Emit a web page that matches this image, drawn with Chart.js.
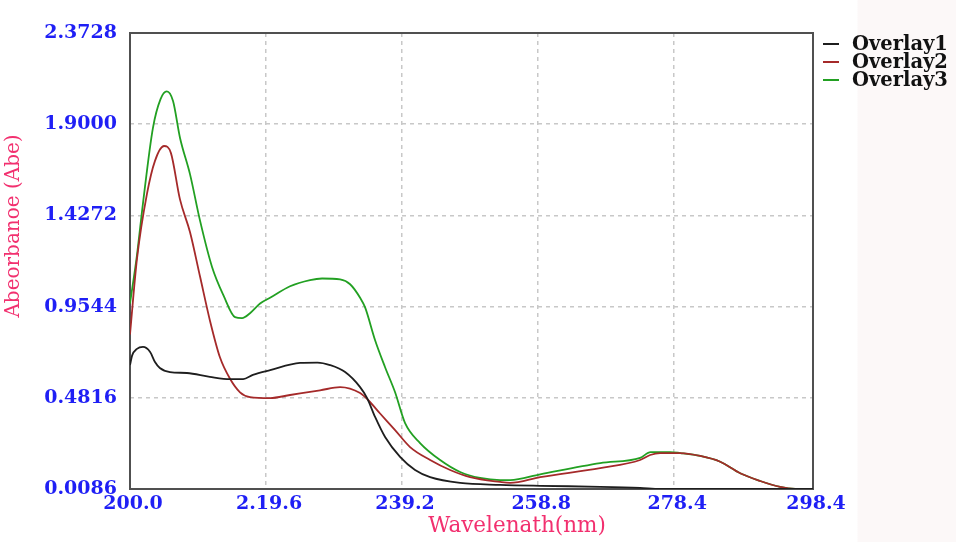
<!DOCTYPE html>
<html>
<head>
<meta charset="utf-8">
<script src="https://cdn.jsdelivr.net/npm/chart.js@4/dist/chart.umd.min.js"></script>
<style>
  html, body { margin: 0; padding: 0; }
  body { width: 956px; height: 542px; background: linear-gradient(to right, #ffffff 0px, #ffffff 857px, #fcf8f8 858px); overflow: hidden; }
  #wrap { position: relative; width: 956px; height: 542px; }
</style>
</head>
<body>
<div id="wrap"><canvas id="c" width="956" height="542"></canvas></div>
<script>
// ---- Data ----
const seriesNames = ["Overlay1", "Overlay2", "Overlay3"];
const xTickValues = [200.0, 219.6, 239.2, 258.8, 278.4, 298.4];
const xTickLabels = ["200.0", "2.19.6", "239.2", "258.8", "278.4", "298.4"];
const yTickValues = [0.0086, 0.4816, 0.9544, 1.4272, 1.9000, 2.3728];
const yTickLabels = ["0.0086", "0.4816", "0.9544", "1.4272", "1.9000", "2.3728"];
const xTitle = "Wavelenath(nm)";
const yTitle = "Abeorbanoe (Abe)";

const overlay1X = [200.0, 200.3, 201.0, 201.87, 202.9, 203.6, 204.3, 205.76, 208.2, 211.5, 214.41, 216.3, 217.7, 220.2, 224.5, 227.0, 228.82, 230.99, 233.15, 234.16, 235.31, 236.75, 238.91, 241.07, 243.24, 247.56, 253.32, 259.09, 267.74, 273.5, 276.38, 298.4];
const overlay1Y = [0.651, 0.70, 0.735, 0.745, 0.719, 0.667, 0.636, 0.615, 0.61, 0.59, 0.578, 0.578, 0.60, 0.625, 0.662, 0.664, 0.651, 0.615, 0.537, 0.48, 0.382, 0.278, 0.175, 0.107, 0.07, 0.04, 0.03, 0.025, 0.02, 0.014, 0.0086, 0.0086];

const overlay2X = [200.0, 201.0, 202.45, 203.6, 204.9, 205.9, 207.2, 208.65, 210.09, 211.53, 212.97, 214.41, 215.85, 217.29, 220.18, 223.06, 227.38, 230.27, 233.15, 234.3, 236.03, 238.19, 240.35, 243.24, 246.12, 249.0, 253.32, 254.76, 259.09, 267.74, 273.5, 274.94, 276.38, 277.82, 279.26, 282.15, 285.03, 287.91, 290.79, 293.67, 295.84, 298.4];
const overlay2Y = [0.81, 1.20, 1.54, 1.71, 1.787, 1.75, 1.51, 1.34, 1.11, 0.88, 0.69, 0.58, 0.51, 0.485, 0.48, 0.496, 0.52, 0.537, 0.506, 0.47, 0.40, 0.314, 0.226, 0.159, 0.107, 0.07, 0.045, 0.04, 0.07, 0.117, 0.159, 0.185, 0.195, 0.195, 0.195, 0.18, 0.15, 0.09, 0.05, 0.019, 0.009, 0.0086];

const overlay3X = [200.0, 201.0, 201.87, 203.3, 204.4, 205.3, 206.2, 207.2, 208.65, 210.09, 211.82, 213.5, 215.13, 216.14, 217.29, 218.74, 220.18, 223.06, 225.94, 227.67, 230.27, 231.71, 233.15, 233.87, 235.31, 236.75, 238.19, 239.63, 241.79, 244.68, 247.56, 250.44, 253.32, 254.76, 259.09, 267.74, 273.5, 275.0, 276.38, 277.82, 279.26, 282.15, 285.03, 287.91, 290.79, 293.67, 295.84, 298.4];
const overlay3Y = [0.97, 1.22, 1.49, 1.88, 2.03, 2.07, 2.02, 1.83, 1.64, 1.40, 1.16, 1.01, 0.90, 0.895, 0.92, 0.97, 1.00, 1.06, 1.092, 1.10, 1.095, 1.07, 1.00, 0.95, 0.78, 0.64, 0.51, 0.35, 0.247, 0.159, 0.097, 0.066, 0.055, 0.055, 0.085, 0.143, 0.17, 0.20, 0.20, 0.20, 0.195, 0.18, 0.15, 0.09, 0.05, 0.019, 0.009, 0.0086];

const seriesColors = ["#1e1e1e", "#a52a2a", "#22a022"];

// ---- Build chart ----
function pts(xs, ys) { return xs.map((x, i) => ({ x: x, y: ys[i] })); }
const allX = [overlay1X, overlay2X, overlay3X];
const allY = [overlay1Y, overlay2Y, overlay3Y];

const FONT = "'DejaVu Serif', 'Liberation Serif', serif";
const TICK_BLUE = "#1f1ff5";
const TITLE_PINK = "#f2306f";

const frameAndTitles = {
  id: 'frameAndTitles',
  beforeDatasetsDraw(chart) {
    const { ctx, chartArea: a } = chart;
    ctx.save();
    ctx.strokeStyle = "#505050";
    ctx.lineWidth = 2;
    ctx.strokeRect(a.left, a.top, a.right - a.left, a.bottom - a.top);
    ctx.restore();
  },
  afterDraw(chart) {
    const { ctx } = chart;
    ctx.save();
    ctx.fillStyle = TITLE_PINK;
    ctx.textAlign = "center";
    ctx.textBaseline = "middle";
    ctx.font = "21.5px " + FONT;
    ctx.fillText(xTitle, 517, 526);
    ctx.font = "20px " + FONT;
    ctx.translate(14, 226);
    ctx.rotate(-Math.PI / 2);
    ctx.fillText(yTitle, 0, 0);
    ctx.restore();
    // legend
    ctx.save();
    ctx.font = "bold 19.5px " + FONT;
    ctx.textAlign = "left";
    ctx.textBaseline = "middle";
    chart.data.datasets.forEach((ds, i) => {
      const y = 44 + i * 18;
      ctx.strokeStyle = ds.borderColor;
      ctx.lineWidth = 2;
      ctx.beginPath();
      ctx.moveTo(823, y);
      ctx.lineTo(839, y);
      ctx.stroke();
      ctx.fillStyle = "#111111";
      ctx.fillText(ds.label, 852, y + 1);
    });
    ctx.restore();
  }
};

new Chart(document.getElementById('c'), {
  type: 'line',
  data: {
    datasets: seriesNames.map((name, i) => ({
      label: name,
      data: pts(allX[i], allY[i]),
      borderColor: seriesColors[i],
      backgroundColor: seriesColors[i],
      borderWidth: 1.8,
      pointRadius: 0,
      fill: false,
      cubicInterpolationMode: 'monotone'
    }))
  },
  options: {
    responsive: false,
    animation: false,
    layout: { padding: { left: 0, right: 143, top: 33, bottom: 0 } },
    plugins: { legend: { display: false }, tooltip: { enabled: false } },
    scales: {
      x: {
        type: 'linear',
        min: 200.0,
        max: 298.4,
        afterBuildTicks: (s) => { s.ticks = xTickValues.map(v => ({ value: v })); },
        afterFit: (s) => { s.height = 53; },
        ticks: {
          autoSkip: false,
          maxRotation: 0,
          padding: 4,
          labelOffset: 3,
          color: TICK_BLUE,
          font: { family: FONT, size: 19, weight: 'bold' },
          callback: (v, i) => xTickLabels[i]
        },
        grid: { color: "#c8c8c8", lineWidth: 1.5, drawTicks: false },
        border: { display: false, dash: [4, 4] }
      },
      y: {
        type: 'linear',
        min: 0.0086,
        max: 2.3728,
        afterBuildTicks: (s) => { s.ticks = yTickValues.map(v => ({ value: v })); },
        afterFit: (s) => { s.width = 130; },
        ticks: {
          autoSkip: false,
          padding: 13,
          color: TICK_BLUE,
          font: { family: FONT, size: 19, weight: 'bold' },
          callback: (v, i) => yTickLabels[i]
        },
        grid: { color: "#c8c8c8", lineWidth: 1.5, drawTicks: false },
        border: { display: false, dash: [4, 4] }
      }
    }
  },
  plugins: [frameAndTitles]
});
</script>
</body>
</html>
